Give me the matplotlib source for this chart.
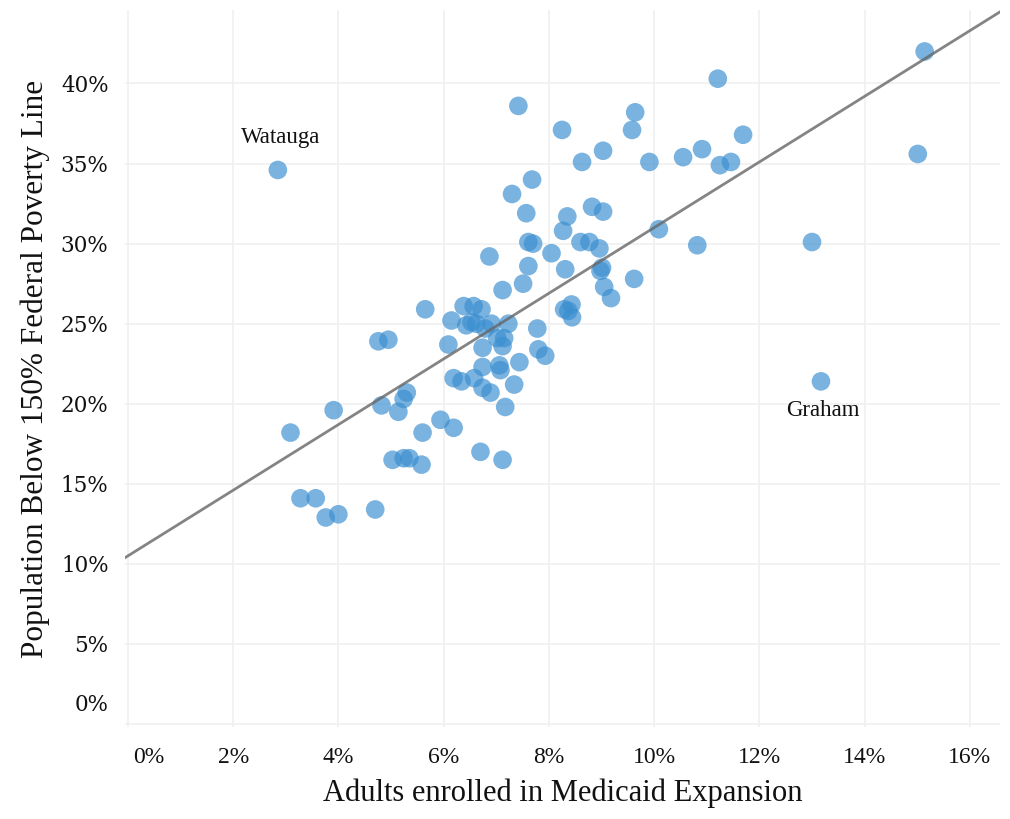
import numpy as np
import matplotlib
matplotlib.use("Agg")
import matplotlib.pyplot as plt
import matplotlib.transforms as mtransforms

# county values (percent)
medicaid_pct = [2.85, 3.09, 3.28, 3.57, 3.76, 4.0, 3.91, 4.7, 4.76, 4.95,
                4.82, 5.03, 5.14, 5.24, 5.3, 5.24, 5.35, 5.58, 5.6, 5.65,
                5.94, 6.09, 6.15, 6.19, 6.19, 6.34, 6.38, 6.43, 6.53, 6.57,
                6.58, 6.62, 6.7, 6.72, 6.74, 6.74, 6.74, 6.79, 6.87, 6.89,
                6.91, 7.02, 7.06, 7.08, 7.12, 7.12, 7.12, 7.15, 7.17, 7.23,
                7.3, 7.34, 7.42, 7.44, 7.51, 7.57, 7.61, 7.61, 7.68, 7.7,
                7.78, 7.8, 7.93, 8.05, 8.25, 8.27, 8.29, 8.35, 8.31, 8.37,
                8.43, 8.44, 8.6, 8.63, 8.77, 8.82, 8.96, 8.98, 9.01, 9.03,
                9.03, 9.05, 9.18, 9.58, 9.64, 9.62, 9.91, 10.09, 10.55, 10.82,
                10.91, 11.21, 11.25, 11.46, 11.69, 13.0, 13.17, 15.01, 15.14]
poverty_pct = [34.6, 18.2, 14.1, 14.1, 12.9, 13.1, 19.6, 13.4, 23.9, 24.0,
               19.9, 16.5, 19.5, 20.3, 20.7, 16.6, 16.6, 16.2, 18.2, 25.9,
               19.0, 23.7, 25.2, 18.5, 21.6, 21.4, 26.1, 24.9, 25.1, 26.1,
               21.6, 25.0, 17.0, 25.9, 23.5, 22.3, 21.0, 24.7, 29.2, 20.7,
               25.0, 24.1, 22.4, 22.1, 27.1, 23.6, 16.5, 24.1, 19.8, 25.0,
               33.1, 21.2, 38.6, 22.6, 27.5, 31.9, 30.1, 28.6, 34.0, 30.0,
               24.7, 23.4, 23.0, 29.4, 37.1, 30.8, 25.9, 31.7, 28.4, 25.8,
               26.2, 25.4, 30.1, 35.1, 30.1, 32.3, 29.7, 28.3, 28.5, 32.0,
               35.8, 27.3, 26.6, 37.1, 38.2, 27.8, 35.1, 30.9, 35.4, 29.9,
               35.9, 40.3, 34.9, 35.1, 36.8, 30.1, 21.4, 35.6, 42.0]

# trend line
trend_intercept = 10.5
trend_slope = 2.05

labels = ["Watauga", "Graham"]
label_x = [2.9, 13.2]
label_y = [36.6, 19.6]

x_ticks = [0, 2, 4, 6, 8, 10, 12, 14, 16]
y_ticks = [0, 5, 10, 15, 20, 25, 30, 35, 40]

plt.rcParams['font.family'] = ['Liberation Serif', 'DejaVu Serif']

fig = plt.figure(figsize=(10.10, 8.19), dpi=100)
ax = fig.add_axes([0.124, 0.112, 0.866, 0.876])

ax.scatter(medicaid_pct, poverty_pct, s=180, color='#3b8fd0', alpha=0.68,
           edgecolors='none', zorder=3)

xlim = (-0.05, 16.57)
xs = np.array(xlim)
ax.plot(xs, trend_intercept + trend_slope * xs, color='#666666', lw=2,
        alpha=0.8, zorder=4)

for name, lx, ly in zip(labels, label_x, label_y):
    ax.text(lx, ly, name, ha='center', va='center', fontsize=16.5, color='#111111')

ax.set_xlim(*xlim)
ax.set_ylim(-0.2, 44.6)
ax.set_xticks(x_ticks)
ax.set_yticks(y_ticks)
ax.set_xticklabels([f"{v}%" for v in x_ticks], fontsize=17)
ax.set_yticklabels([f"{v}%" for v in y_ticks], fontsize=15.5,
                   family=['DejaVu Serif'])
ax.grid(True, color='#f0f0f0', lw=1.2)
ax.set_axisbelow(True)
ax.tick_params(length=0, colors='#111111')
ax.tick_params(axis='x', pad=14)
ax.tick_params(axis='y', pad=12)
for s in ax.spines.values():
    s.set_visible(False)

# first tick labels sit inside the frame in the original
ax.get_xticklabels()[0].set_transform(
    ax.get_xticklabels()[0].get_transform()
    + mtransforms.ScaledTranslation(0.21, 0, fig.dpi_scale_trans))
ax.get_yticklabels()[0].set_transform(
    ax.get_yticklabels()[0].get_transform()
    + mtransforms.ScaledTranslation(0, 0.22, fig.dpi_scale_trans))

ax.set_xlabel("Adults enrolled in Medicaid Expansion", fontsize=22, labelpad=8,
              color='#111111')
ax.set_ylabel("Population Below 150% Federal Poverty Line", fontsize=22.5,
              labelpad=8, color='#111111')

fig.savefig("out.png", dpi=100)
